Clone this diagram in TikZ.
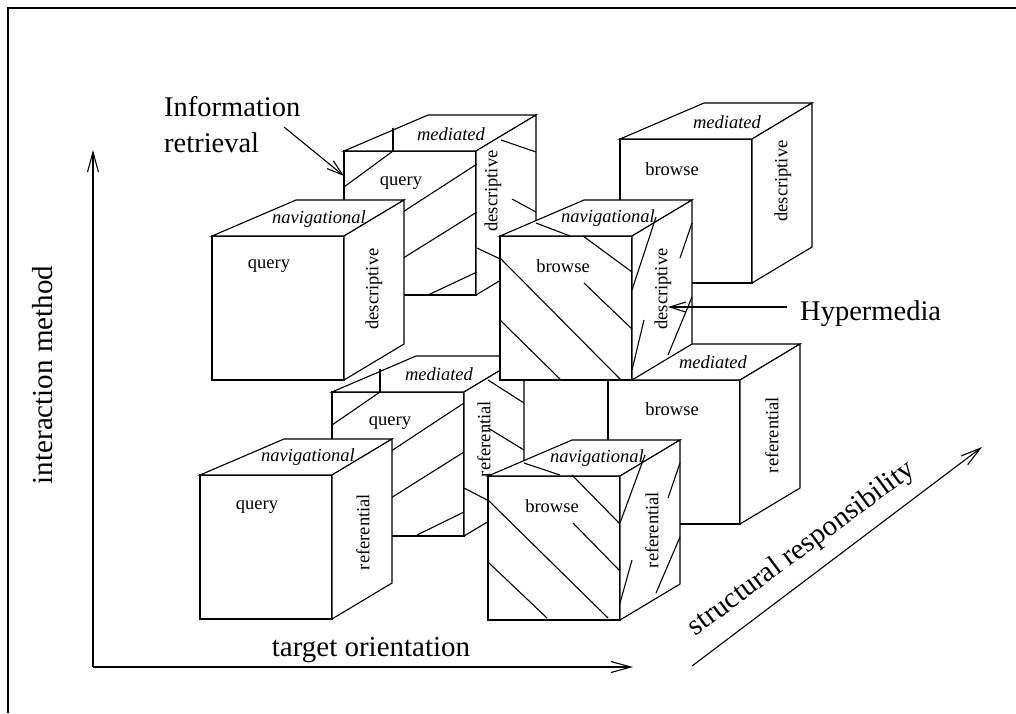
\documentclass[tikz,border=0pt]{standalone}
\usepackage{fontspec}
\setmainfont{Liberation Serif}
\usetikzlibrary{arrows.meta}

\tikzset{
  edge/.style={line width=1.1pt, draw=black, fill=white},
  hatch/.style={line width=1.1pt},
  axis/.style={line width=1.1pt, -{Straight Barb[length=20pt,width=11pt]}},
  pointer/.style={line width=1.1pt, -{Straight Barb[length=16pt,width=10pt]}},
  face/.style={font=\fontsize{18.5}{22}\selectfont, inner sep=0pt},
  topface/.style={inner sep=0pt, font=\fontsize{18.5}{22}\selectfont\itshape},
  sideface/.style={face, rotate=90},
  big/.style={font=\fontsize{28.5}{36}\selectfont, inner sep=0pt},
}

% one block: front face, top face and right face, front face's top-left corner at (#1,#2)
\newcommand{\blockat}[2]{%
  \filldraw[edge] (#1,#2) rectangle ++(132,144);
  \filldraw[edge] (#1,#2) -- ++(84,-36) -- ++(108,0) -- ++(-60,36) -- cycle;
  \filldraw[edge] (#1+132,#2) -- ++(60,-36) -- ++(0,144) -- ++(-60,36) -- cycle;
}

\begin{document}
\begin{tikzpicture}[x=1pt,y=-1pt]
\useasboundingbox (0,0) rectangle (1016,713);

% frame
\draw[line width=1.1pt] (8,713) -- (8,8) -- (1016,8);

% ---------- back row ----------
% mediated / query / descriptive  (information retrieval)
\blockat{344}{151}
\draw[hatch] (393,128) -- (393,151);
\draw[hatch] (344,187) -- (393,151);
\draw[hatch] (344,250) -- (477,164);
\draw[hatch] (344,295) -- (477,212);
\draw[hatch] (428,295) -- (477,272);
\draw[hatch] (501,140) -- (536,152);
\draw[hatch] (512,199) -- (536,212);
\draw[hatch] (477,248) -- (536,276);
\node[face] (Aq) at (401,183) {query};
\node[topface] (At) at (451,134) {mediated};
\node[sideface] (As) at (493,191) {descriptive};

% mediated / browse / descriptive
\blockat{620}{139}
\node[face] (Bq) at (672,169) {browse};
\node[topface] (Bt) at (727,122) {mediated};
\node[sideface] (Bs) at (783,181) {descriptive};

% mediated / query / referential
\blockat{332}{392}
\draw[hatch] (380,369) -- (380,392);
\draw[hatch] (332,425) -- (380,392);
\draw[hatch] (332,490) -- (464,403);
\draw[hatch] (332,535) -- (464,452);
\draw[hatch] (417,535) -- (464,512);
\draw[hatch] (488,380) -- (524,403);
\draw[hatch] (488,428) -- (524,450);
\draw[hatch] (464,488) -- (524,519);
\node[face] (Eq) at (390,423) {query};
\node[topface] (Et) at (439,374) {mediated};
\node[sideface] (Es) at (484,439) {referential};

% mediated / browse / referential
\blockat{608}{380}
\node[face] (Fq) at (672,409) {browse};
\node[topface] (Ft) at (713,362) {mediated};
\node[sideface] (Fs) at (772,435) {referential};

% ---------- front row ----------
% navigational / query / descriptive
\blockat{212}{236}
\node[face] (Cq) at (269,266) {query};
\node[topface] (Ct) at (319,219) {navigational};
\node[sideface] (Cs) at (374,289) {descriptive};

% navigational / browse / descriptive  (hypermedia)
\blockat{500}{236}
\draw[hatch] (536,223) -- (570,236);
\draw[hatch] (583,236) -- (632,272);
\draw[hatch] (500,258) -- (620,379);
\draw[hatch] (584,283) -- (632,329);
\draw[hatch] (500,320) -- (560,379);
\draw[hatch] (656,217) -- (632,290);
\draw[hatch] (692,223) -- (680,258);
\draw[hatch] (644,320) -- (632,370);
\draw[hatch] (692,297) -- (668,355);
\node[face] (Dq) at (563,266) {browse};
\node[topface] (Dt) at (608,218) {navigational};
\node[sideface] (Ds) at (663,289) {descriptive};

% navigational / query / referential
\blockat{200}{475}
\node[face] (Gq) at (257,507) {query};
\node[topface] (Gt) at (308,457) {navigational};
\node[sideface] (Gs) at (363,532) {referential};

% navigational / browse / referential
\blockat{488}{476}
\draw[hatch] (524,463) -- (560,475);
\draw[hatch] (572,475) -- (619,523);
\draw[hatch] (488,500) -- (608,618);
\draw[hatch] (573,523) -- (619,570);
\draw[hatch] (488,562) -- (547,618);
\draw[hatch] (645,455) -- (620,523);
\draw[hatch] (680,463) -- (668,498);
\draw[hatch] (632,560) -- (620,603);
\draw[hatch] (680,537) -- (656,593);
\node[face] (Hq) at (552,506) {browse};
\node[topface] (Ht) at (597,458) {navigational};
\node[sideface] (Hs) at (652,530) {referential};

% ---------- annotations ----------
\node[big, align=left, anchor=north west] (ir) at (164,96.5) {Information\\retrieval};
\coordinate (irtail) at (284,127);
\coordinate (irtip) at (344,176);
\draw[pointer] (irtail) -- (irtip);

\node[big, anchor=base west] (hm) at (800,320) {Hypermedia};
\coordinate (hmtail) at (787,307);
\coordinate (hmtip) at (668,307);
\draw[pointer] (hmtail) -- (hmtip);

% ---------- axes ----------
\coordinate (origin) at (93,667);
\coordinate (ytip) at (93,150);
\coordinate (xtip) at (633,667);
\coordinate (ztail) at (692,666);
\coordinate (ztip) at (982,447);
\draw[axis] (origin) -- (ytip);
\draw[axis] (origin) -- (xtip);
\draw[axis] (ztail) -- (ztip);

\node[big, font=\fontsize{29}{36}\selectfont, rotate=90] (im) at (43,375) {interaction method};
\node[big, font=\fontsize{29}{36}\selectfont, anchor=base] (tor) at (371,656) {target orientation};
\node[big, font=\fontsize{29}{36}\selectfont, rotate=36.5] (sr) at (802,549) {structural responsibility};
\end{tikzpicture}
\end{document}
